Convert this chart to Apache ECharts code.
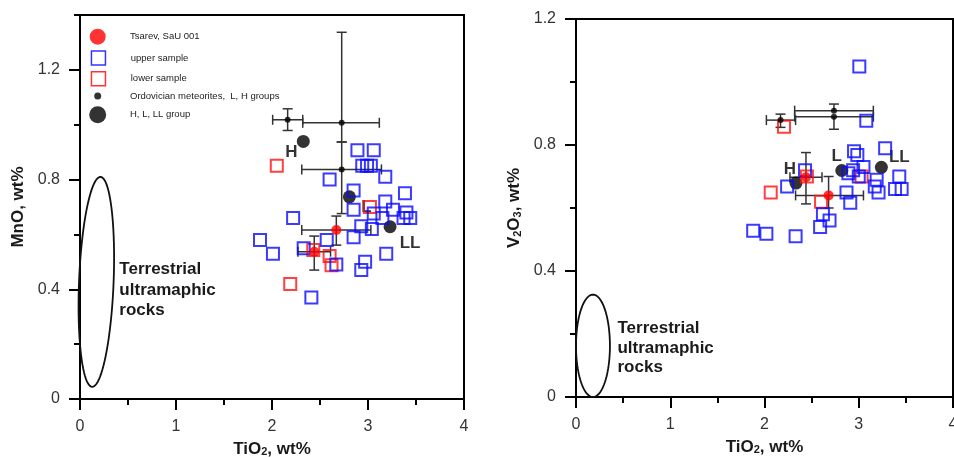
<!DOCTYPE html>
<html>
<head>
<meta charset="utf-8">
<script src="https://cdn.jsdelivr.net/npm/echarts@6/dist/echarts.min.js"></script>
<style>html,body{margin:0;padding:0;background:#fff}#c{width:954px;height:457px}</style>
</head>
<body>
<div id="c"></div>
<script>
// ---------------- DATA ----------------
// Left panel: MnO (wt%) vs TiO2 (wt%)
const mnoUpper = [
  [2.89,0.907],[3.06,0.907],[2.94,0.85],[2.99,0.85],[3.03,0.85],[3.18,0.81],[2.60,0.80],
  [2.85,0.76],[3.385,0.75],[3.18,0.72],[2.85,0.69],[3.06,0.676],[3.26,0.69],[3.40,0.68],
  [3.44,0.66],[3.37,0.66],[3.15,0.66],[2.22,0.66],[2.93,0.63],[3.04,0.62],[1.875,0.58],
  [2.57,0.58],[2.85,0.59],[2.01,0.53],[2.33,0.55],[3.19,0.53],[2.97,0.50],[2.93,0.47],
  [2.67,0.49],[2.41,0.37]
];
const mnoLower = [[2.05,0.85],[3.02,0.70],[2.43,0.543],[2.60,0.521],[2.62,0.488],[2.19,0.419]];
const mnoTsarev = [[2.67,0.616],[2.44,0.537]];
// [x, y, xLow, xHigh, yLow, yHigh]
const mnoTsarevErr = [[2.67,0.616,2.31,3.03,0.561,0.667],[2.44,0.537,2.27,2.61,0.47,0.594]];
const mnoOrdo = [[2.163,1.018],[2.726,1.007],[2.726,0.837]];
const mnoOrdoErr = [[2.163,1.018,2.007,2.32,0.979,1.058],[2.726,1.007,2.32,3.118,0.937,1.337],[2.726,0.837,2.31,3.14,0.676,0.937]];
const mnoGroups = [[2.326,0.939],[2.806,0.737],[3.23,0.628]];
// terrestrial field ellipse: [cx, cy, rx, ry]
const mnoField = [[0.17,0.427,0.18,0.383]];

// Right panel: V2O3 (wt%) vs TiO2 (wt%)
const v2o3Upper = [
  [3.006,1.049],[3.08,0.877],[3.28,0.79],[2.95,0.78],[2.985,0.768],[2.43,0.72],[3.05,0.73],
  [2.94,0.72],[2.89,0.71],[3.43,0.70],[3.19,0.69],[3.00,0.70],[2.24,0.668],[3.17,0.668],
  [2.87,0.649],[3.21,0.649],[3.385,0.66],[3.455,0.66],[2.91,0.617],[2.62,0.58],[2.69,0.56],
  [2.59,0.54],[1.88,0.528],[2.02,0.518],[2.33,0.51]
];
const v2o3Lower = [[2.207,0.858],[2.066,0.649],[2.45,0.70],[3.03,0.70],[2.60,0.62]];
const v2o3Tsarev = [[2.68,0.64],[2.44,0.698]];
const v2o3TsarevErr = [[2.68,0.64,2.33,3.05,0.60,0.70],[2.44,0.698,2.27,2.61,0.613,0.776]];
const v2o3Ordo = [[2.17,0.879],[2.737,0.909],[2.737,0.89]];
const v2o3OrdoErr = [[2.17,0.879,2.02,2.33,0.856,0.898],[2.737,0.909,2.32,3.155,0.909,0.93],[2.737,0.89,2.32,3.155,0.85,0.89]];
const v2o3Groups = [[2.334,0.679],[2.82,0.719],[3.24,0.729]];
const v2o3Field = [[0.18,0.1625,0.18,0.1625]];

const groupNames = ['H','L','LL'];
const fieldLabel = ['Terrestrial','ultramaphic','rocks'];
const seriesNames = ['Tsarev, SaU 001','upper sample','lower sample','Ordovician meteorites,  L, H groups','H, L, LL group'];
const xRange = [0,4], xStep = 1;
const mnoRange = [0,1.4], mnoStep = 0.4;
const v2o3Range = [0,1.2], v2o3Step = 0.4;

// ---------------- CHART ----------------
const FONT = '"Liberation Sans", Arial, Helvetica, sans-serif';
const chart = echarts.init(document.getElementById('c'), null, {renderer:'canvas'});

const nameRich = {
  n:{fontSize:17,fontWeight:'bold',fontFamily:FONT,color:'#1a1a1a',lineHeight:17,verticalAlign:'top'},
  s:{fontSize:11,fontWeight:'bold',fontFamily:FONT,color:'#1a1a1a',lineHeight:11,verticalAlign:'bottom',padding:[7,0,0,0]}
};
const axisLineStyle = {color:'#000',width:2};
function xAx(i){
  return {gridIndex:i,type:'value',min:xRange[0],max:xRange[1],interval:xStep,
    name:'{n|TiO}{s|2}{n|, wt%}',nameLocation:'middle',nameGap:i?38:36,
    nameTextStyle:{rich:nameRich},
    axisLine:{onZero:false,lineStyle:axisLineStyle},
    axisTick:{show:true,length:11,lineStyle:axisLineStyle},
    minorTick:{show:true,splitNumber:2,length:6,lineStyle:axisLineStyle},
    axisLabel:{fontSize:16,color:'#333',margin:20,fontFamily:FONT},
    splitLine:{show:false},minorSplitLine:{show:false}};
}
const yLabel = {fontSize:16,color:'#333',margin:20,fontFamily:FONT};

function errRender(params, api){
  const x=api.value(0), y=api.value(1), xl=api.value(2), xh=api.value(3), yl=api.value(4), yh=api.value(5);
  const L=api.coord([xl,y]), R=api.coord([xh,y]), B=api.coord([x,yl]), T=api.coord([x,yh]);
  const c=5, st={stroke:'#333',lineWidth:1.5};
  const ch=[
    {type:'line',shape:{x1:L[0],y1:L[1],x2:R[0],y2:R[1]},style:st},
    {type:'line',shape:{x1:B[0],y1:B[1],x2:T[0],y2:T[1]},style:st},
    {type:'line',shape:{x1:L[0],y1:L[1]-c,x2:L[0],y2:L[1]+c},style:st},
    {type:'line',shape:{x1:R[0],y1:R[1]-c,x2:R[0],y2:R[1]+c},style:st}
  ];
  if (yl!==y) ch.push({type:'line',shape:{x1:B[0]-c,y1:B[1],x2:B[0]+c,y2:B[1]},style:st});
  if (yh!==y) ch.push({type:'line',shape:{x1:T[0]-c,y1:T[1],x2:T[0]+c,y2:T[1]},style:st});
  return {type:'group',children:ch};
}
function ellipseRender(rot){
  return function(params, api){
    const c=api.coord([api.value(0),api.value(1)]);
    const s=api.size([api.value(2),api.value(3)],[api.value(0),api.value(1)]);
    const rx=s[0], ry=s[1], cs=Math.cos(rot), sn=Math.sin(rot), pts=[];
    for(let i=0;i<=96;i++){const t=i/96*2*Math.PI, ex=rx*Math.cos(t), ey=ry*Math.sin(t);
      pts.push([c[0]+ex*cs-ey*sn, c[1]+ex*sn+ey*cs]);}
    return {type:'polyline',shape:{points:pts},style:{fill:null,stroke:'#111',lineWidth:1.8}};
  };
}
function textRender(anchor, lh){
  return function(params, api){
    const p=api.coord(anchor);
    return {type:'text',x:p[0],y:p[1],style:{text:fieldLabel.join('\n'),font:'bold 17px '+FONT,fill:'#1a1a1a',lineHeight:lh,align:'left',verticalAlign:'top'}};
  };
}

function panelSeries(p, yIdx, d){
  const ax={xAxisIndex:p,yAxisIndex:yIdx};
  return [
    Object.assign({type:'custom',renderItem:ellipseRender(d.rot),data:d.field,z:1,silent:true,clip:false},ax),
    Object.assign({type:'custom',renderItem:textRender(d.textAt,d.lh),data:[[0]],z:1,silent:true},ax),
    Object.assign({type:'custom',renderItem:errRender,data:d.ordoErr.concat(d.tsErr),z:2,silent:true},ax),
    Object.assign({type:'scatter',name:seriesNames[4],symbol:'circle',symbolSize:13,itemStyle:{color:'#000'},z:3,
      data:d.groups.map((v,i)=>({value:v,name:groupNames[i],label:{offset:d.offsets[i]}})),
      label:{show:true,position:'inside',formatter:'{b}',fontSize:17,fontWeight:'bold',fontFamily:FONT,color:'#000'}},ax),
    Object.assign({type:'scatter',name:seriesNames[2],symbol:'rect',symbolSize:12,z:4,
      itemStyle:{color:'rgba(255,255,255,0)',borderColor:'#ff1010',borderWidth:2},data:d.lower},ax),
    Object.assign({type:'scatter',name:seriesNames[1],symbol:'rect',symbolSize:12,z:5,
      itemStyle:{color:'rgba(255,255,255,0)',borderColor:'#0a0aff',borderWidth:2},data:d.upper},ax),
    Object.assign({type:'scatter',name:seriesNames[0],symbol:'circle',symbolSize:10,z:6,
      itemStyle:{color:'#ff0000'},data:d.ts},ax),
    Object.assign({type:'scatter',name:seriesNames[3],symbol:'circle',symbolSize:6,z:7,
      itemStyle:{color:'#000'},data:d.ordo},ax)
  ];
}

const legendDefs = [
  {icon:'circle',size:16,cy:36.7,style:{color:'#ff0000'}},
  {icon:'rect',size:14,cy:57.3,style:{color:'rgba(255,255,255,0)',borderColor:'#0000ff',borderWidth:1.5}},
  {icon:'rect',size:14,cy:78,style:{color:'rgba(255,255,255,0)',borderColor:'#ff0000',borderWidth:1.5}},
  {icon:'circle',size:7,cy:95.7,style:{color:'#000'}},
  {icon:'circle',size:17,cy:114.7,style:{color:'#000'}}
];
const legendCx = 97.7, legendTextX = 130;

const gridBase = {show:true,borderColor:'#000',borderWidth:2,backgroundColor:'rgba(0,0,0,0)',containLabel:false,outerBoundsMode:'none'};
const option = {
  animation:false,
  backgroundColor:'#fff',
  grid:[
    Object.assign({left:80,right:490,top:15,bottom:58},gridBase),
    Object.assign({left:576,right:1,top:19,bottom:60},gridBase)
  ],
  xAxis:[xAx(0),xAx(1)],
  yAxis:[
    {gridIndex:0,type:'value',min:mnoRange[0],max:mnoRange[1],interval:mnoStep,
     name:'{n|MnO, wt%}',nameLocation:'middle',nameGap:53,nameTextStyle:{rich:nameRich},
     axisLine:{onZero:false,lineStyle:axisLineStyle},
     axisTick:{length:11,lineStyle:axisLineStyle},
     axisLabel:Object.assign({showMaxLabel:false},yLabel),splitLine:{show:false}},
    {gridIndex:0,type:'value',min:mnoRange[0],max:mnoRange[1],interval:mnoStep/2,position:'left',
     axisLine:{show:false},axisTick:{length:6,lineStyle:axisLineStyle},axisLabel:{show:false},splitLine:{show:false}},
    {gridIndex:1,type:'value',min:v2o3Range[0],max:v2o3Range[1],interval:v2o3Step,
     name:'{n|V}{s|2}{n|O}{s|3}{n|, wt%}',nameLocation:'middle',nameGap:53,nameTextStyle:{rich:nameRich},
     axisLine:{onZero:false,lineStyle:axisLineStyle},
     axisTick:{length:11,lineStyle:axisLineStyle},
     minorTick:{show:true,splitNumber:2,length:6,lineStyle:axisLineStyle},
     axisLabel:yLabel,splitLine:{show:false},minorSplitLine:{show:false}}
  ],
  legend: legendDefs.map((d,i)=>({
    data:[{name:seriesNames[i],icon:d.icon,itemStyle:d.style}],
    left:legendCx-d.size/2, top:d.cy-Math.max(d.size,9.5)/2,
    itemWidth:d.size,itemHeight:d.size,padding:0,selectedMode:false,orient:'horizontal',
    textStyle:{fontSize:9.5,fontFamily:FONT,color:'#222',padding:[0,0,0,legendTextX-(legendCx+d.size/2+5)]}
  })),
  series:[].concat(
    panelSeries(0,0,{field:mnoField,rot:0.04,textAt:[0.41,0.51],lh:20.5,ordoErr:mnoOrdoErr,tsErr:mnoTsarevErr,
      groups:mnoGroups,offsets:[[-12,11],[17,10],[20,17]],lower:mnoLower,upper:mnoUpper,ts:mnoTsarev,ordo:mnoOrdo}),
    panelSeries(1,2,{field:v2o3Field,rot:0,textAt:[0.44,0.248],lh:19.5,ordoErr:v2o3OrdoErr,tsErr:v2o3TsarevErr,
      groups:v2o3Groups,offsets:[[-6,-14],[-5,-14],[18,-10]],lower:v2o3Lower,upper:v2o3Upper,ts:v2o3Tsarev,ordo:v2o3Ordo})
  )
};
chart.setOption(option);
</script>
</body>
</html>
